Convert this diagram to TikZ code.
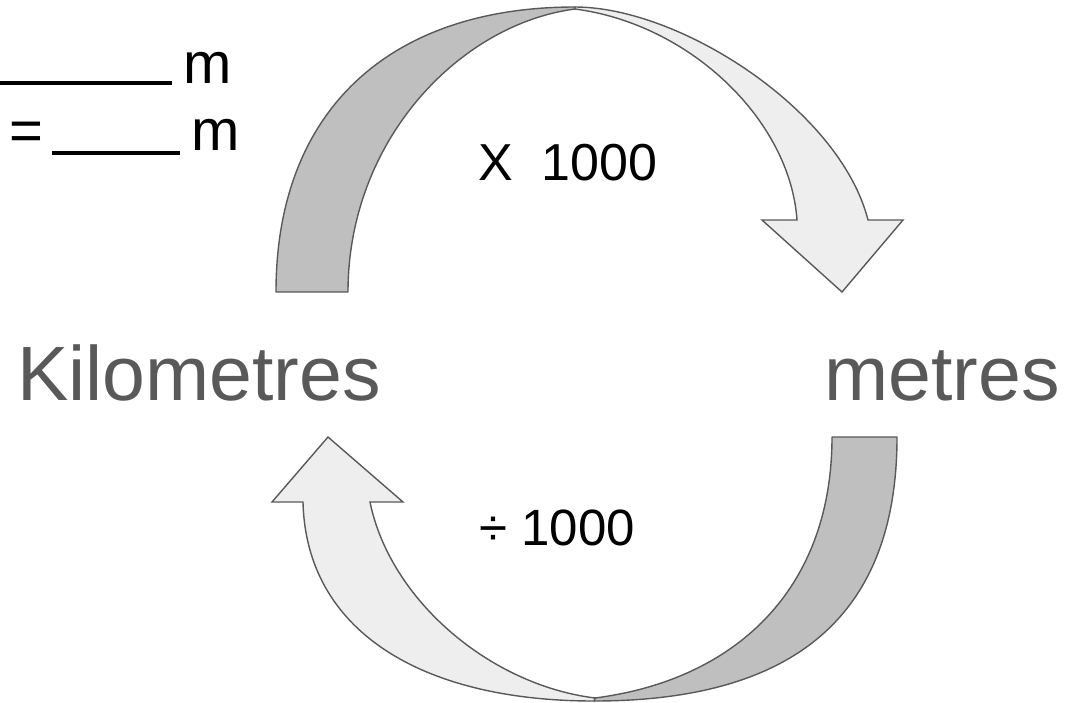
\documentclass[tikz,border=0pt]{standalone}
\usepackage{fontspec}
\setmainfont{Liberation Sans}
\usetikzlibrary{positioning}
\definecolor{bandback}{HTML}{BFBFBF}
\definecolor{bandfront}{HTML}{EEEEEE}
\definecolor{edgegrey}{HTML}{595959}
\definecolor{unitgrey}{HTML}{595959}

\begin{document}
\begin{tikzpicture}[x=0.5pt, y=-0.5pt,
  back/.style={fill=bandback, draw=edgegrey, line width=0.7pt, line join=round},
  front/.style={fill=bandfront, draw=edgegrey, line width=0.7pt, line join=miter},
  unit/.style={inner sep=0pt, anchor=base, text=unitgrey, font=\fontsize{38.5}{46}\selectfont},
  factor/.style={inner sep=0pt, anchor=base, font=\fontsize{26}{31}\selectfont},
  answer/.style={inner sep=0pt, anchor=base west, font=\fontsize{29}{35}\selectfont},
  blank/.style={line width=2pt}
]
\useasboundingbox (0,0) rectangle (1065,702);

% upper arrow: km -> m
\filldraw[back] (276,292) .. controls (276,110) and (390,7) .. (575,7)
  -- (575,9) .. controls (460,24) and (348,140) .. (348,292) -- cycle;
\filldraw[front] (575,7) .. controls (680,7) and (840,110) .. (868,220)
  -- (903,220) -- (842,292) -- (762,220) -- (797,220)
  .. controls (790,120) and (690,24) .. (575,9) -- cycle;

% lower arrow: m -> km
\filldraw[back] (897,437) .. controls (897,615) and (795,701) .. (594,701)
  -- (595,698) .. controls (735,680) and (832,590) .. (832,437) -- cycle;
\filldraw[front] (594,701) .. controls (420,701) and (306,630) .. (303,502)
  -- (272,502) -- (328,437) -- (403,502) -- (370,502)
  .. controls (390,600) and (490,685) .. (595,698) -- cycle;

% units
\node[unit] (km) at (199,400) {Kilometres};
\node[unit] (mt) at (942,400) {metres};

% factors
\node[factor] (times) at (568,180) {X\ \ 1000};
\node[factor, font=\fontsize{25.5}{30}\selectfont] (divide) at (557,545) {÷ 1000};

% answer blanks
\coordinate (b1s) at (0,83);
\coordinate (b1e) at (172,83);
\draw[blank] (b1s) -- (b1e);
\node[answer] (m1) at (183,83) {m};
\node[answer] (eq) at (9,150) {=};
\coordinate (b2s) at (52,153);
\coordinate (b2e) at (180,153);
\draw[blank] (b2s) -- (b2e);
\node[answer] (m2) at (191,150) {m};
\end{tikzpicture}
\end{document}
